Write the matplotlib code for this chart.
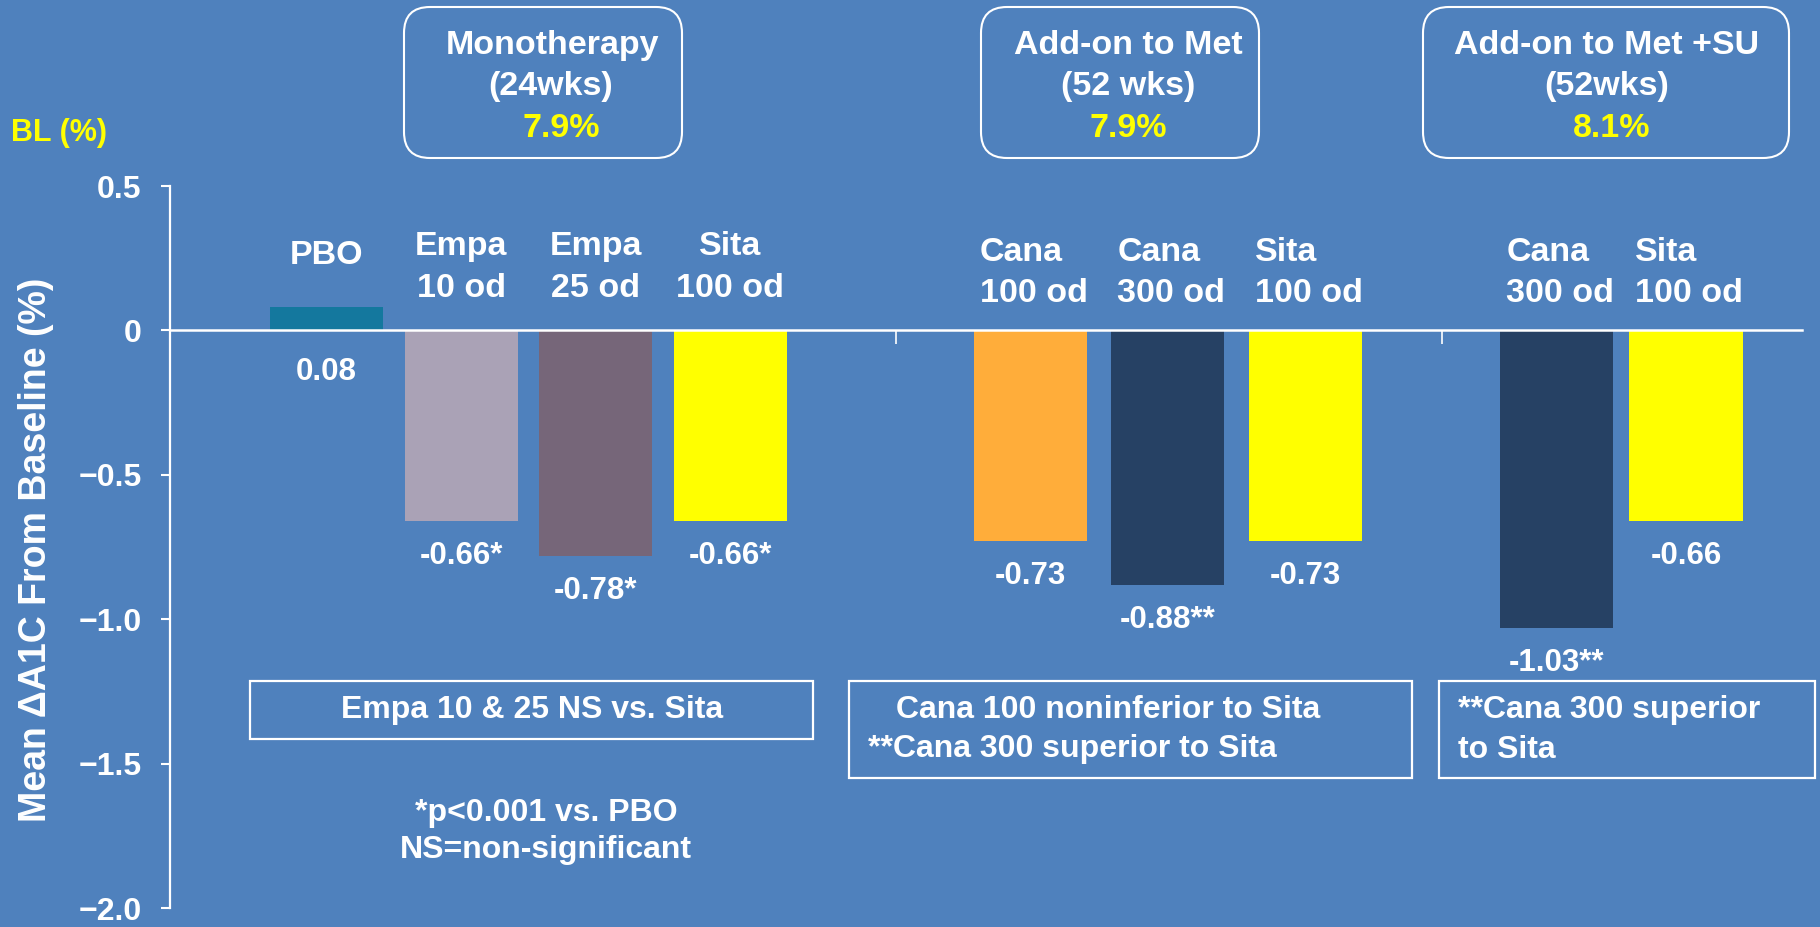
import matplotlib
matplotlib.use("Agg")
import matplotlib.pyplot as plt
import numpy as np
from matplotlib.patches import FancyBboxPatch, Rectangle
from matplotlib.transforms import IdentityTransform, blended_transform_factory

# ---------------------------------------------------------------- data
group_names = ["Monotherapy", "Add-on to Met", "Add-on to Met +SU"]
group_durations = ["(24wks)", "(52 wks)", "(52wks)"]
group_baseline = ["7.9%", "7.9%", "8.1%"]
group_sizes = [4, 3, 2]

treatments = ["PBO", "Empa\n10 od", "Empa\n25 od", "Sita\n100 od",
              "Cana\n100 od", "Cana\n300 od", "Sita\n100 od",
              "Cana\n300 od", "Sita\n100 od"]
a1c_change = [0.08, -0.66, -0.78, -0.66,
              -0.73, -0.88, -0.73,
              -1.03, -0.66]
significance = ["", "*", "*", "*", "", "**", "", "**", ""]

y_ticks = [0.5, 0.0, -0.5, -1.0, -1.5, -2.0]
y_tick_labels = ["0.5", "0", "\u22120.5", "\u22121.0", "\u22121.5", "\u22122.0"]

comparison_notes = [["Empa 10 & 25 NS vs. Sita"],
                    ["Cana 100 noninferior to Sita", "**Cana 300 superior to Sita"],
                    ["**Cana 300 superior", "to Sita"]]
footnote_lines = ["*p<0.001 vs. PBO", "NS=non-significant"]

# ---------------------------------------------------------------- style
BG = "#4F81BD"
WHITE = "white"
YELLOW = "#FFFF00"
bar_colors = ["#14789E", "#AAA2B6", "#766679", YELLOW,
              "#FFAD3A", "#264164", YELLOW,
              "#264164", YELLOW]
FONT = "Liberation Sans"
plt.rcParams["font.family"] = [FONT, "DejaVu Sans"]
plt.rcParams["font.weight"] = "bold"

W, H, DPI = 1820, 927, 100
fig = plt.figure(figsize=(W / DPI, H / DPI), dpi=DPI, facecolor=BG)


def fx(px):
    return px / W


def fy(py):
    return 1 - py / H


# axes: spine at x=170 px, right end at 1802 px; y from 0.5 (186 px) to -2.0 (908 px)
ax = fig.add_axes([fx(170), fy(908), fx(1802) - fx(170), fy(186) - fy(908)])
ax.set_facecolor(BG)
SLOT_PX = 134.6  # width of one category slot in pixels

# bar positions: one slot per treatment, groups separated by wider gaps
group_starts = [0.0, 5.23, 9.14]
group_steps = [1.0, 1.02, 0.96]
x_pos = np.concatenate([s + st * np.arange(n)
                        for s, st, n in zip(group_starts, group_steps, group_sizes)])
group_of_bar = np.repeat(np.arange(len(group_sizes)), group_sizes)
separators = [4.23, 8.29]
bar_width = 0.84

ax.bar(x_pos, a1c_change, width=bar_width, color=bar_colors, edgecolor="none", zorder=2)

ax.set_xlim(-1.163, 10.962)
ax.set_ylim(-2.0, 0.5)

# axes styling
for side in ("top", "right"):
    ax.spines[side].set_visible(False)
ax.spines["left"].set_color(WHITE)
ax.spines["left"].set_linewidth(1.6)
ax.spines["bottom"].set_position(("data", 0))
ax.spines["bottom"].set_color(WHITE)
ax.spines["bottom"].set_linewidth(1.8)
ax.spines["bottom"].set_zorder(3)

ax.set_yticks(y_ticks)
ax.set_yticklabels(y_tick_labels)
ax.tick_params(axis="y", colors=WHITE, direction="out", length=6.5, width=1.5,
               pad=14, labelsize=23)
for lbl in ax.get_yticklabels():
    lbl.set_fontweight("bold")

ax.set_xticks(separators)
ax.set_xticklabels([])
ax.tick_params(axis="x", colors=WHITE, direction="out", length=10, width=1.2)

# value labels under each bar
for x, v, s in zip(x_pos, a1c_change, significance):
    end = min(v, 0.0)
    off = -35 if v < 0 else -42
    ax.annotate(f"{v:.2f}{s}", xy=(x, end), xytext=(0, off * 72 / DPI),
                textcoords="offset points", ha="center", va="center",
                color=WHITE, fontsize=22.5, fontweight="bold")

# treatment names above the zero line
label_align = ["center", "left", "left"]
label_baselines = [(255, 297), (261, 302), (261, 302)]
blend = blended_transform_factory(ax.transData, fig.transFigure)
for x, name, g in zip(x_pos, treatments, group_of_bar):
    lines = name.split("\n")
    ha = label_align[g]
    tx = x if ha == "center" else x - bar_width / 2 + 6 / SLOT_PX
    if len(lines) == 1:
        ys = [264]
    else:
        ys = label_baselines[g]
    for line, yy in zip(lines, ys):
        ax.text(tx, fy(yy), line, transform=blend, ha=ha, va="baseline",
                color=WHITE, fontsize=24.5, fontweight="bold")

# y-axis title and baseline marker
fig.text(fx(36), fy(550), "Mean \u0394A1C From Baseline (%)", rotation=90,
         ha="center", va="center", color=WHITE, fontsize=27, fontweight="bold")
fig.text(fx(11), fy(133), "BL (%)", ha="left", va="center", color=YELLOW,
         fontsize=22, fontweight="bold")

# study header boxes (pixel geometry)
header_boxes = [(404, 682), (981, 1259), (1423, 1789)]
header_text_x = [(552, 551, 561), (1128, 1128, 1128), (1607, 1607, 1612)]
for (x0, x1), txs, name, dur, bl in zip(header_boxes, header_text_x, group_names,
                                         group_durations, group_baseline):
    box = FancyBboxPatch((x0, H - 158), x1 - x0, 158 - 7,
                         boxstyle="round,pad=0,rounding_size=26",
                         transform=IdentityTransform(), facecolor="none",
                         edgecolor=WHITE, linewidth=1.5)
    fig.add_artist(box)
    for text, tx, yy, col in ((name, txs[0], 54, WHITE), (dur, txs[1], 95, WHITE),
                              (bl, txs[2], 137, YELLOW)):
        fig.text(fx(tx), fy(yy), text, ha="center", va="baseline", color=col,
                 fontsize=24.5, fontweight="bold")

# comparison boxes below the bars
note_boxes = [(250, 813, 681, 739), (849, 1412, 681, 778), (1439, 1815, 681, 778)]
note_text = [[(532, 710, "center")],
             [(896, 710, "left"), (868, 749, "left")],
             [(1458, 710, "left"), (1458, 750, "left")]]
for (x0, x1, y0, y1), lines, places in zip(note_boxes, comparison_notes, note_text):
    rect = Rectangle((x0, H - y1), x1 - x0, y1 - y0, transform=IdentityTransform(),
                     facecolor="none", edgecolor=WHITE, linewidth=1.6)
    fig.add_artist(rect)
    for line, (tx, ty, ha) in zip(lines, places):
        fig.text(fx(tx), fy(ty), line, ha=ha, va="center", color=WHITE,
                 fontsize=23, fontweight="bold")

for i, line in enumerate(footnote_lines):
    fig.text(fx(546), fy(813 + 37 * i), line, ha="center", va="center", color=WHITE,
             fontsize=23, fontweight="bold")

fig.savefig("out.png", dpi=DPI, facecolor=BG)
